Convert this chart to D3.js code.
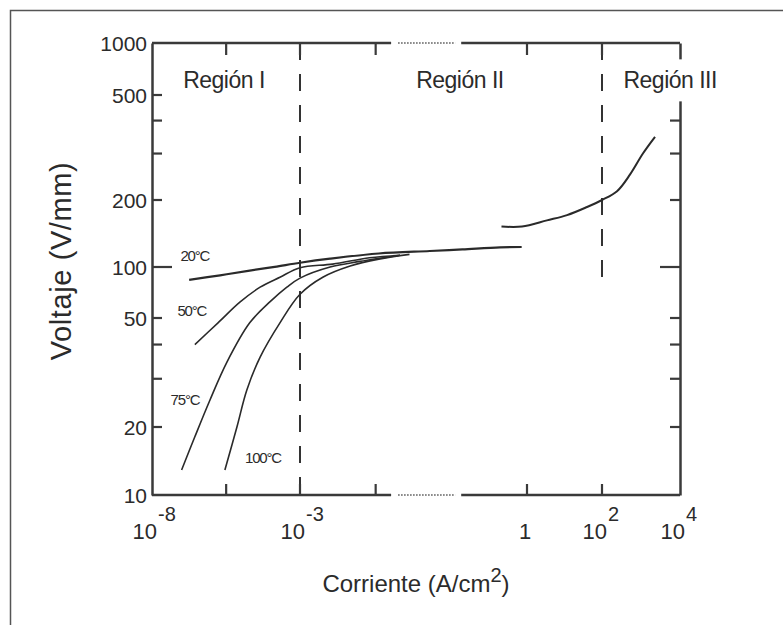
<!DOCTYPE html>
<html>
<head>
<meta charset="utf-8">
<script src="https://cdn.jsdelivr.net/npm/d3@7/dist/d3.min.js"></script>
<style>
body { margin: 0; background: #fff; }
svg text { font-family: Arial, "Liberation Sans", sans-serif; fill: #2b2b2b; }
</style>
</head>
<body>
<div id="graphDiv"></div>
<script>
// --- data ---
// y axis (V/mm), log, labelled ticks + unlabelled minor ticks
var yTicks = [10, 20, 50, 100, 200, 500, 1000];
var yMinorTicks = [30, 40, 300, 400];
// x axis (A/cm2), log with a break between 1e-2 and 1
var xTicks = [1e-8, 3.2e-6, 1e-3, 1e-2, 1, 1e2, 1e4];
var xLabelValues = [1e-8, 1e-3, 1, 1e2, 1e4];
var xLabelBase = ["10", "10", "1", "10", "10"];
var xLabelExp = ["-8", "-3", "", "2", "4"];
var xBreak = [0.016, 0.135];      // gap in the x axis line (dotted)

// curves: current (A/cm2) and voltage (V/mm)
var current20 = [1.8e-7, 2.0e-6, 2.0e-5, 1.4e-4, 1e-3, 2.5e-3, 1.1e-2, 5.2e-2, 0.14, 0.44, 0.85];
var volt20    = [84, 89.3, 95.3, 100.2, 104.5, 109, 115, 118, 120, 122.5, 123];
var current50 = [2.8e-7, 1.7e-6, 9.3e-6, 4.5e-5, 2.1e-4, 1e-3, 2.7e-3, 8.3e-3, 2.1e-2];
var volt50    = [40, 48, 62, 76, 87, 99, 103, 110, 113];
var current75 = [1.0e-7, 2.8e-7, 9.1e-7, 3.4e-6, 2.0e-5, 9.8e-5, 3.6e-4, 1e-3, 2.5e-3, 6.2e-3, 2.1e-2];
var volt75    = [12.9, 18.1, 25.1, 34.5, 48, 62.4, 76, 86, 100, 106, 113];
var current100 = [2.9e-6, 7.4e-6, 1.6e-5, 4.5e-5, 2.1e-4, 1e-3, 2.0e-3, 4.6e-3, 1.1e-2, 2.8e-2];
var volt100    = [12.9, 20, 27.3, 36, 48, 69, 87, 101, 108.5, 114];
var currentHigh = [0.46, 0.86, 3.4, 11.7, 40, 100, 243, 525, 1120, 2290];
var voltHigh    = [152, 152, 162, 171, 186, 200, 216, 250, 300, 347];

var tempNames = ["20°C", "50°C", "75°C", "100°C"];
var tempLabelCurrent = [2.8e-7, 2.2e-7, 1.3e-7, 5.6e-5];
var tempLabelVolt = [113, 55.6, 25.1, 14.6];

var regionNames = ["Región I", "Región II", "Región III"];
var regionCurrent = [2.7e-6, 0.13, 5600];
var regionVolt = 610;
var regionBounds = [1e-3, 1e2];
var regionBoundBottom = [10, 86];

// --- layout ---
var outerWidth = 783, outerHeight = 625;
var axisColor = "#3a3a3a";

var svg = d3.select("#graphDiv")
    .append("svg")
    .attr("width", outerWidth)
    .attr("height", outerHeight);

// frame of the figure
svg.append("rect")
    .attr("x", 10.5).attr("y", 10.5)
    .attr("width", 900).attr("height", 900)
    .attr("fill", "none")
    .attr("stroke", "#555")
    .attr("stroke-width", 1.5);

// piecewise log scales (the printed axes are not evenly spaced)
var x = d3.scaleLog()
    .domain([1e-8, 1e-3, 1, 1e2, 1e4])
    .range([152, 300, 527, 602, 680]);

var y = d3.scaleLog()
    .domain(yTicks)
    .range([495, 427, 318, 267, 200, 95, 43]);

var g = svg.append("g");

// region boundaries (dashed)
g.selectAll("line.bound")
    .data(regionBounds)
    .enter().append("line")
    .attr("x1", function(d) { return x(d); })
    .attr("x2", function(d) { return x(d); })
    .attr("y1", y(1000))
    .attr("y2", function(d, i) { return y(regionBoundBottom[i]); })
    .attr("stroke", "#333")
    .attr("stroke-width", 2)
    .attr("stroke-dasharray", "17,14");

// left / right axes
g.append("g")
    .attr("transform", "translate(" + x(1e-8) + ",0)")
    .call(d3.axisRight(y).tickValues(yTicks.concat(yMinorTicks)).tickFormat("")
        .tickSize(0))
    .call(function(a) { a.select(".domain").attr("stroke", axisColor).attr("stroke-width", 2.5); });

g.append("g")
    .attr("class", "rightAxis")
    .attr("transform", "translate(" + x(1e4) + ",0)")
    .call(d3.axisLeft(y).tickValues([]).tickSizeOuter(0))
    .call(function(a) { a.select(".domain").attr("stroke", axisColor).attr("stroke-width", 2.5); });

// y ticks on both sides, 100 is longer
var yAll = yTicks.slice(1, -1).concat(yMinorTicks);
[x(1e-8), x(1e4)].forEach(function(x0, side) {
    g.selectAll(null)
        .data(yAll)
        .enter().append("line")
        .attr("x1", x0)
        .attr("x2", function(d) { var l = d === 100 ? 20 : 10; return side ? x0 - l : x0 + l; })
        .attr("y1", function(d) { return y(d); })
        .attr("y2", function(d) { return y(d); })
        .attr("stroke", axisColor)
        .attr("stroke-width", 2.2);
});

// y tick labels
g.selectAll("text.ylab")
    .data(yTicks)
    .enter().append("text")
    .attr("x", x(1e-8) - 5)
    .attr("y", function(d) { return y(d); })
    .attr("dy", "0.36em")
    .attr("text-anchor", "end")
    .style("font-size", "21px")
    .text(function(d) { return d; });

// top / bottom axis lines with break
var xMin = 1e-8, xMax = 1e4;
[y(1000), y(10)].forEach(function(y0, side) {
    var segs = [[xMin, xBreak[0]], [xBreak[1], xMax]];
    g.selectAll(null)
        .data(segs)
        .enter().append("line")
        .attr("x1", function(d) { return x(d[0]); })
        .attr("x2", function(d) { return x(d[1]); })
        .attr("y1", y0).attr("y2", y0)
        .attr("stroke", axisColor)
        .attr("stroke-width", 2.5);
    g.append("line")
        .attr("x1", x(xBreak[0]) + 7)
        .attr("x2", x(xBreak[1]) - 6)
        .attr("y1", y0).attr("y2", y0)
        .attr("stroke", "#555")
        .attr("stroke-width", 1.5)
        .attr("stroke-dasharray", "1.5,1.5");
    g.selectAll(null)
        .data(xTicks.slice(1, -1))
        .enter().append("line")
        .attr("x1", function(d) { return x(d); })
        .attr("x2", function(d) { return x(d); })
        .attr("y1", y0)
        .attr("y2", side ? y0 - 11 : y0 + 12)
        .attr("stroke", axisColor)
        .attr("stroke-width", 2.2);
});

// x tick labels 10^n
var xl = g.selectAll("text.xlab")
    .data(xLabelValues)
    .enter().append("g")
    .attr("transform", function(d) { return "translate(" + (x(d) + 5) + "," + (y(10) + 44) + ")"; });
xl.append("text")
    .attr("text-anchor", function(d, i) { return xLabelExp[i] ? "end" : "middle"; })
    .attr("dx", function(d, i) { return xLabelExp[i] ? 0 : -7; })
    .style("font-size", "22px")
    .text(function(d, i) { return xLabelBase[i]; });
xl.append("text")
    .attr("x", 1)
    .attr("y", -18)
    .style("font-size", "20px")
    .text(function(d, i) { return xLabelExp[i]; });

// curves
var line = d3.line()
    .x(function(d) { return x(d[0]); })
    .y(function(d) { return y(d[1]); })
    .curve(d3.curveCatmullRom.alpha(0.5));

var series = [
    {c: currentHigh, v: voltHigh, w: 2},
    {c: current100, v: volt100, w: 1.6},
    {c: current75, v: volt75, w: 1.6},
    {c: current50, v: volt50, w: 1.6},
    {c: current20, v: volt20, w: 2.2}
];
g.selectAll("path.curve")
    .data(series)
    .enter().append("path")
    .attr("d", function(s) { return line(d3.zip(s.c, s.v)); })
    .attr("fill", "none")
    .attr("stroke", "#2a2a2a")
    .attr("stroke-width", function(s) { return s.w; });

// temperature labels
g.selectAll("text.temp")
    .data(tempNames)
    .enter().append("text")
    .attr("x", function(d, i) { return x(tempLabelCurrent[i]); })
    .attr("y", function(d, i) { return y(tempLabelVolt[i]); })
    .attr("dy", "0.36em")
    .attr("text-anchor", "middle")
    .style("font-size", "15px")
    .style("letter-spacing", "-1.2px")
    .text(function(d) { return d; });

// region labels (white box hides the right axis behind "Región III")
var reg = g.selectAll("g.region")
    .data(regionNames)
    .enter().append("g");
reg.append("rect").attr("fill", "#fff");
reg.append("text")
    .attr("x", function(d, i) { return x(regionCurrent[i]); })
    .attr("y", y(regionVolt))
    .attr("dy", "0.36em")
    .attr("text-anchor", "middle")
    .style("font-size", "23px")
    .style("letter-spacing", "-0.5px")
    .text(function(d) { return d; });
reg.each(function() {
    var b = d3.select(this).select("text").node().getBBox();
    d3.select(this).select("rect")
        .attr("x", b.x).attr("y", b.y - 8)
        .attr("width", b.width).attr("height", b.height + 16);
});

// axis titles
svg.append("text")
    .attr("transform", "translate(71,261)rotate(-90)")
    .attr("text-anchor", "middle")
    .style("font-size", "29px")
    .style("letter-spacing", "0.6px")
    .text("Voltaje (V/mm)");

var xt = svg.append("text")
    .attr("x", (x(1e-8) + x(1e4)) / 2)
    .attr("y", 592)
    .attr("text-anchor", "middle")
    .style("font-size", "24px");
xt.append("tspan").text("Corriente (A/cm");
xt.append("tspan").attr("dy", -10).style("font-size", "20px").text("2");
xt.append("tspan").attr("dy", 10).text(")");
</script>
</body>
</html>
